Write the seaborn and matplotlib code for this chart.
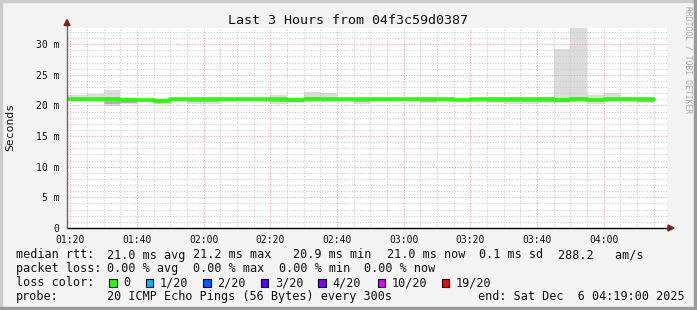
import numpy as np
import matplotlib
matplotlib.use("Agg")
import matplotlib.pyplot as plt
import seaborn as sns
from matplotlib.patches import Rectangle, Polygon

# ---------------- data ----------------
# bin edges in minutes after 01:19 (5-minute RRD steps, first one clipped at graph start)
bin_edges = [0] + list(range(6, 177, 5))
smoke_max = [21.7, 21.9, 22.6, 21.3, 21.1, 21.3, 21.3, 21.2, 21.2, 21.3, 21.2, 21.3,
             21.7, 21.3, 22.2, 22.0, 21.3, 21.3, 21.3, 21.3, 21.2, 21.3, 21.2, 21.2,
             21.3, 21.3, 21.4, 21.3, 21.4, 29.2, 34.0, 21.7, 22.0, 21.4, 21.3]
smoke_min = [20.7, 20.6, 19.9, 20.2, 20.5, 20.3, 20.7, 20.2, 20.3, 20.5, 20.6, 20.6,
             20.3, 20.4, 20.5, 20.6, 20.6, 20.3, 20.6, 20.6, 20.7, 20.4, 20.6, 20.7,
             20.6, 20.4, 20.3, 20.3, 20.4, 20.4, 20.6, 20.3, 20.6, 20.6, 20.4]
smoke_hi = [21.3, 21.3, 21.4, 21.2, 21.1, 21.1, 21.2, 21.3, 21.2, 21.2, 21.2, 21.2,
            21.3, 21.2, 21.4, 21.3, 21.2, 21.3, 21.2, 21.2, 21.2, 21.3, 21.2, 21.1,
            21.2, 21.2, 21.3, 21.3, 21.3, 21.3, 21.4, 21.2, 21.3, 21.2, 21.2]
smoke_lo = [20.8, 20.8, 20.3, 20.4, 20.7, 20.5, 20.8, 20.5, 20.6, 20.7, 20.8, 20.8,
            20.5, 20.6, 20.7, 20.8, 20.8, 20.5, 20.8, 20.8, 20.8, 20.6, 20.8, 20.8,
            20.7, 20.6, 20.5, 20.5, 20.6, 20.6, 20.7, 20.5, 20.8, 20.8, 20.6]
median_rtt = [21.05, 21.05, 21.0, 20.9, 20.9, 20.8, 21.0, 21.05, 21.1, 21.05, 21.0, 21.0,
              21.0, 20.9, 21.0, 21.05, 21.05, 21.05, 21.0, 21.0, 21.05, 21.05, 21.0, 20.95,
              21.0, 21.0, 21.05, 21.05, 21.0, 20.95, 21.05, 20.85, 21.0, 21.0, 21.0]

x_tick_pos = [1, 21, 41, 61, 81, 101, 121, 141, 161]
x_tick_labels = ["01:20", "01:40", "02:00", "02:20", "02:40", "03:00", "03:20", "03:40", "04:00"]
y_tick_pos = [0, 5, 10, 15, 20, 25, 30]
y_tick_labels = ["0", "5 m", "10 m", "15 m", "20 m", "25 m", "30 m"]

loss_labels = ["0", "1/20", "2/20", "3/20", "4/20", "10/20", "19/20"]
loss_colors = ["#26ff00", "#00b8ff", "#0059ff", "#5e00ff", "#7e00ff", "#dd00ff", "#ff0000"]

# ---------------- figure ----------------
sns.set_theme(style="white")
plt.rcParams['font.family'] = ['DejaVu Sans Mono']

W, H = 697, 310
fig = plt.figure(figsize=(W / 100, H / 100), dpi=100)
fig.patch.set_facecolor("#f3f3f3")

def fx(x):
    return x / W

def fy(y):
    return 1 - y / H

# frame shading
fig.patches.append(Rectangle((0, 0), fx(2), 1, transform=fig.transFigure, color="#cbcbcb", zorder=0))
fig.patches.append(Rectangle((0, fy(2)), 1, fx(2) * W / H, transform=fig.transFigure, color="#cbcbcb", zorder=0))
fig.patches.append(Rectangle((fx(W - 3), 0), fx(3), 1, transform=fig.transFigure, color="#9a9a9a", zorder=0))
fig.patches.append(Rectangle((0, 0), 1, 3 / H, transform=fig.transFigure, color="#9a9a9a", zorder=0))

ax = fig.add_axes([fx(67), 82 / H, 600 / W, 200 / H])
ax.set_facecolor("white")

edges = np.array(bin_edges, dtype=float)
def stepv(v):
    return np.r_[v, v[-1]]

ax.fill_between(edges, stepv(smoke_min), stepv(smoke_max), step="post",
                color="#dcdcdc", lw=0, zorder=1)
ax.fill_between(edges, stepv(smoke_lo), stepv(smoke_hi), step="post",
                color="#b0b0b0", lw=0, zorder=1.1)
sns.lineplot(x=edges, y=stepv(median_rtt), drawstyle="steps-post", color=loss_colors[0],
             lw=2.6, ax=ax, zorder=3, estimator=None, sort=False)

ax.set_xlim(0, 180)
ax.set_ylim(0, 32.65)
for s in ax.spines.values():
    s.set_visible(False)

ax.set_xticks(x_tick_pos)
ax.set_xticklabels(x_tick_labels)
ax.set_xticks(list(range(1, 180, 5)), minor=True)
ax.set_yticks(y_tick_pos)
ax.set_yticklabels(y_tick_labels)
ax.set_yticks(list(range(0, 33)), minor=True)
ax.set_axisbelow(False)
dots = (0, (1, 1.6))
ax.grid(True, which="minor", color="#c8c8c8", lw=0.75, ls=dots)
ax.grid(True, which="major", color="#f29a9a", lw=0.75, ls=dots)
ax.tick_params(axis="both", which="major", labelsize=7, length=2.2, width=0.7,
               color="#555555", labelcolor="#111111")
ax.tick_params(axis="both", which="minor", length=1.4, width=0.6, color="#aaaaaa")
ax.tick_params(axis="y", which="major", pad=3.2)
ax.tick_params(axis="x", which="major", pad=2.5)
ax.set_xlabel("")
ax.set_ylabel("")

# axes lines and arrows
fig.lines.append(plt.Line2D([fx(67), fx(669)], [fy(228), fy(228)], transform=fig.transFigure,
                            color="black", lw=1.0, zorder=5))
fig.lines.append(plt.Line2D([fx(67), fx(67)], [fy(228), fy(24)], transform=fig.transFigure,
                            color="#666666", lw=1.0, zorder=5))
fig.patches.append(Polygon([(fx(668), fy(225)), (fx(668), fy(231)), (fx(674), fy(228))],
                           closed=True, transform=fig.transFigure, color="#7f1f1f", zorder=6))
fig.patches.append(Polygon([(fx(64), fy(25.5)), (fx(70), fy(25.5)), (fx(67), fy(19.5))],
                           closed=True, transform=fig.transFigure, color="#7f1f1f", zorder=6))

# texts
fig.text(fx(348), fy(24), "Last 3 Hours from 04f3c59d0387", ha="center", va="baseline",
         fontsize=9.6, color="#111111")
fig.text(fx(10.5), fy(126.5), "Seconds", rotation=90, ha="center", va="center",
         fontsize=8.2, color="#111111")
fig.text(fx(688), fy(60), "RRDTOOL / TOBI OETIKER", rotation=270, ha="center", va="center",
         fontsize=5.8, color="#aaaaaa")

lfs = 8.5
line1 = [("median rtt:", 16), ("21.0 ms avg", 107.3), ("21.2 ms max", 193.3),
         ("20.9 ms min", 293.3), ("21.0 ms now", 386.7), ("0.1 ms sd", 479.3),
         ("288.2   am/s", 557.5)]
line2 = [("packet loss:", 16), ("0.00 % avg", 107.3), ("0.00 % max", 193.3),
         ("0.00 % min", 279.3), ("0.00 % now", 364.5)]
for txt, x in line1:
    fig.text(fx(x), fy(258.5), txt, ha="left", va="baseline", fontsize=lfs, color="#111111")
for txt, x in line2:
    fig.text(fx(x), fy(272.3), txt, ha="left", va="baseline", fontsize=lfs, color="#111111")

fig.text(fx(16), fy(286.2), "loss color:", ha="left", va="baseline", fontsize=lfs, color="#111111")
swatch_x = [109, 145.7, 203.3, 260.7, 318.3, 377.7, 441.7]
for lab, col, sx in zip(loss_labels, loss_colors, swatch_x):
    fig.patches.append(Rectangle((fx(sx), fy(286.5)), 7.5 / W, 7.5 / H, transform=fig.transFigure,
                                 facecolor=col, edgecolor="black", lw=0.8, zorder=5))
    fig.text(fx(sx + 14.3), fy(286.2), lab, ha="left", va="baseline", fontsize=lfs, color="#111111")

fig.text(fx(16), fy(300.2), "probe:", ha="left", va="baseline", fontsize=lfs, color="#111111")
fig.text(fx(107.3), fy(300.2), "20 ICMP Echo Pings (56 Bytes) every 300s", ha="left",
         va="baseline", fontsize=lfs, color="#111111")
fig.text(fx(478.3), fy(300.2), "end: Sat Dec  6 04:19:00 2025", ha="left",
         va="baseline", fontsize=lfs, color="#111111")

fig.savefig("out.png", dpi=100, facecolor=fig.get_facecolor())
